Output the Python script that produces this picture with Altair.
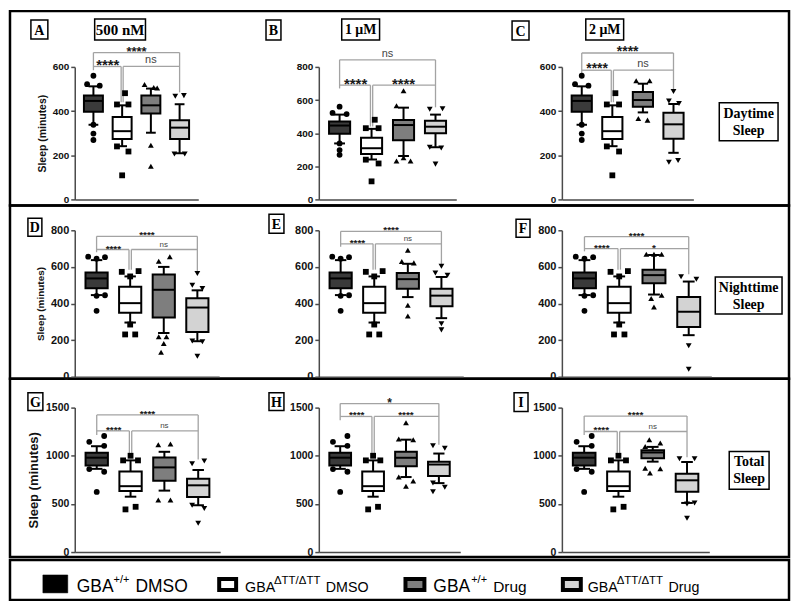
import altair as alt
import pandas as pd

# ---------------- data ----------------
GROUPS = ["GBA+/+ DMSO", "GBAΔTT/ΔTT DMSO", "GBA+/+ Drug", "GBAΔTT/ΔTT Drug"]
POSITIONS = [1, 2, 3, 4]
FILLS = ["#3a3a3a", "#ffffff", "#7e7e7e", "#d3d3d3"]
SHAPES = ["circle", "square", "triangle-up", "triangle-down"]

# box statistics: lower whisker, Q1, median, Q3, upper whisker (minutes)
DAY_WT_DMSO = [338, 397, 446, 471, 512]
DAY_MUT_DMSO = [241, 274, 309, 373, 426]
DAY_WT_500 = [302, 389, 426, 470, 502]
DAY_MUT_500 = [209, 274, 325, 359, 431]
DAY_WT_1 = [262, 357, 449, 479, 554]
DAY_MUT_1 = [315, 400, 439, 475, 512]
DAY_WT_2 = [394, 420, 450, 486, 524]
DAY_MUT_2 = [211, 275, 340, 392, 432]
NIGHT_WT_DMSO = [446, 483, 537, 570, 637]
NIGHT_MUT_DMSO = [296, 350, 402, 492, 548]
NIGHT_WT_500 = [239, 323, 475, 558, 600]
NIGHT_MUT_500 = [194, 244, 378, 429, 472]
NIGHT_WT_1 = [435, 480, 533, 567, 617]
NIGHT_MUT_1 = [320, 385, 443, 480, 545]
NIGHT_WT_2 = [449, 511, 555, 585, 665]
NIGHT_MUT_2 = [227, 271, 355, 435, 520]
TOTAL_WT_DMSO = [864, 898, 980, 1031, 1099]
TOTAL_MUT_DMSO = [575, 633, 684, 837, 952]
TOTAL_WT_500 = [638, 741, 879, 983, 1041]
TOTAL_MUT_500 = [486, 572, 693, 762, 852]
TOTAL_WT_1 = [779, 891, 979, 1042, 1167]
TOTAL_MUT_1 = [716, 790, 909, 937, 1023]
TOTAL_WT_2 = [939, 973, 1034, 1058, 1092]
TOTAL_MUT_2 = [510, 626, 745, 813, 935]

# points outside the whiskers: [value, horizontal offset in group units]
DAY_WT_DMSO_OUT = [[560, 0], [522, -0.22], [515, 0.22], [338, 0], [298, 0], [269, 0]]
DAY_MUT_DMSO_OUT = [[481, 0.1], [430, -0.18], [430, 0.22], [240, -0.18], [217, 0.22], [109, 0]]
DAY_WT_500_OUT = [[520, -0.22], [507, 0.1], [505, 0.22], [245, 0], [150, 0]]
DAY_MUT_500_OUT = [[467, -0.15], [470, 0.15], [206, -0.18], [206, 0.18]]
DAY_WT_1_OUT = [[565, -0.22], [656, 0], [232, -0.22], [252, 0], [232, 0.22]]
DAY_MUT_1_OUT = [[545, -0.18], [548, 0.22], [315, -0.18], [311, 0.18], [213, 0]]
DAY_WT_2_OUT = [[537, -0.22], [537, 0.22], [366, -0.15], [359, 0.15]]
DAY_MUT_2_OUT = [[489, 0], [446, -0.15], [434, 0.18], [168, -0.15], [176, 0.15]]
NIGHT_WT_DMSO_OUT = [[656, -0.25], [645, 0], [653, 0.25], [442, 0], [445, 0.25], [360, 0]]
NIGHT_MUT_DMSO_OUT = [[573, -0.25], [577, 0.25], [548, 0], [285, 0], [231, -0.15], [231, 0.15]]
NIGHT_WT_500_OUT = [[631, -0.15], [655, 0.18], [218, -0.15], [218, 0.08], [182, 0], [134, -0.08]]
NIGHT_MUT_500_OUT = [[564, 0], [500, -0.15], [482, 0.15], [195, -0.15], [191, 0.15], [112, 0]]
NIGHT_WT_1_OUT = [[691, 0], [630, -0.18], [622, 0.18], [391, 0], [332, 0]]
NIGHT_MUT_1_OUT = [[604, 0], [567, -0.18], [554, 0.18], [289, 0], [256, 0]]
NIGHT_WT_2_OUT = [[669, -0.22], [669, 0], [669, 0.22], [427, -0.08], [445, 0.22], [381, 0]]
NIGHT_MUT_2_OUT = [[546, -0.22], [532, 0.22], [169, 0], [41, 0]]
TOTAL_WT_DMSO_OUT = [[1145, -0.22], [1205, 0.22], [1103, 0.22], [862, -0.22], [834, 0.22], [624, 0]]
TOTAL_MUT_DMSO_OUT = [[1000, 0], [952, -0.22], [952, 0.22], [443, -0.15], [470, 0.15]]
TOTAL_WT_500_OUT = [[1114, -0.18], [1121, 0.18], [540, -0.18], [540, 0.18]]
TOTAL_MUT_500_OUT = [[918, -0.18], [945, 0.18], [486, -0.18], [452, 0.18], [300, 0]]
TOTAL_WT_1_OUT = [[1342, 0], [1174, -0.22], [1167, 0.22], [779, -0.22], [737, 0.22], [683, 0]]
TOTAL_MUT_1_OUT = [[1103, -0.18], [1079, 0.18], [716, -0.18], [674, 0.18], [627, -0.18]]
TOTAL_WT_2_OUT = [[1167, -0.1], [1133, 0.22], [1095, -0.22], [871, -0.22], [864, 0.22], [820, -0.08]]
TOTAL_MUT_2_OUT = [[969, -0.22], [969, 0.22], [500, 0], [510, 0.22], [350, 0]]

# significance brackets: [top line, lower line, end above group1, end above group2, end above group4]
BR_A = [665, 602, 585, 440, 485]
BR_B = [843, 690, 670, 440, 556]
BR_C = [663, 585, 572, 440, 500]
BR_D = [767, 695, 680, 585, 574]
BR_E = [794, 726, 710, 585, 615]
BR_F = [765, 700, 685, 585, 560]
BR_G = [1424, 1258, 1215, 1015, 960]
BR_H = [1542, 1408, 1370, 1015, 1115]
BR_I = [1412, 1252, 1215, 1015, 985]

# bracket labels: [group1 vs group4, group1 vs group2, group2 vs group4]
LAB_A = ["****", "****", "ns"]
LAB_B = ["ns", "****", "****"]
LAB_C = ["****", "****", "ns"]
LAB_D = ["****", "****", "ns"]
LAB_E = ["****", "****", "ns"]
LAB_F = ["****", "****", "*"]
LAB_G = ["****", "****", "ns"]
LAB_H = ["*", "****", "****"]
LAB_I = ["****", "****", "ns"]

DAY_TICKS_600 = [0, 200, 400, 600]
TICKS_800 = [0, 200, 400, 600, 800]
TICKS_1500 = [0, 500, 1000, 1500]

CONCENTRATIONS = ["500 nM", "1 μM", "2 μM"]
ROW_LABELS = [["Daytime", "Sleep"], ["Nighttime", "Sleep"], ["Total", "Sleep"]]
PANEL_LETTERS = ["A", "B", "C", "D", "E", "F", "G", "H", "I"]

# ---------------- helpers ----------------
SANS = "Liberation Sans"
SERIF = "Liberation Serif"
AXIS_GRAY = "#4a4a4a"
BRACKET_GRAY = "#a3a3a3"
ONE = pd.DataFrame({"k": [0]})
BOX_HALF = 0.33
CAP_HALF = 0.17
DBL = 0.035


def xenc(field):
    return alt.X(f"{field}:Q",
                 scale=alt.Scale(domain=[0.35, 4.65], nice=False, zero=False),
                 axis=alt.Axis(title=None, labels=False, ticks=False, grid=False,
                               domainColor=AXIS_GRAY, domainWidth=1.5))


def make_yenc(ymax, ticks, title, tfs, lfs):
    def yenc(field):
        ax = dict(values=ticks, format="d", grid=False, labelFont=SANS, labelFontWeight="bold",
                  labelFontSize=lfs, labelColor="#111", labelPadding=2,
                  tickColor=AXIS_GRAY, tickWidth=1.5, tickSize=4,
                  domainColor=AXIS_GRAY, domainWidth=1.5)
        if title:
            ax.update(title=title, titleFont=SANS, titleFontWeight="bold",
                      titleFontSize=tfs, titleColor="#111", titlePadding=5)
        else:
            ax.update(title=None)
        return alt.Y(f"{field}:Q", scale=alt.Scale(domain=[0, ymax], nice=False),
                     axis=alt.Axis(**ax))
    return yenc


def deco_box(x0, x1, y0, y1, sw=1.5, fill="white", opacity=1.0):
    return alt.Chart(ONE).mark_rect(fill=fill, fillOpacity=opacity, stroke="black",
                                    strokeWidth=sw).encode(
        x=alt.value(x0), x2=alt.value(x1), y=alt.value(y0), y2=alt.value(y1))


def deco_text(x, y, txt, size, font=SERIF, weight="bold", align="center",
              baseline="middle", line_height=17):
    return alt.Chart(ONE).mark_text(text=txt, font=font, fontSize=size, fontWeight=weight,
                                    align=align, baseline=baseline, color="black",
                                    lineHeight=line_height).encode(
        x=alt.value(x), y=alt.value(y))


def panel(boxes, outs, br, labels, lsizes, ymax, ticks, w, h, title, tfs, lfs, decos):
    yenc = make_yenc(ymax, ticks, title, tfs, lfs)
    bdf = pd.DataFrame({
        "pos": POSITIONS, "grp": GROUPS, "fill": FILLS,
        "lo": [b[0] for b in boxes], "q1": [b[1] for b in boxes],
        "med": [b[2] for b in boxes], "q3": [b[3] for b in boxes],
        "hi": [b[4] for b in boxes]})
    bdf["xl"] = bdf["pos"] - BOX_HALF
    bdf["xr"] = bdf["pos"] + BOX_HALF
    bdf["cl"] = bdf["pos"] - CAP_HALF
    bdf["cr"] = bdf["pos"] + CAP_HALF

    orows = []
    for p, g, pts in zip(POSITIONS, GROUPS, outs):
        for v, off in pts:
            orows.append({"grp": g, "ox": p + off, "val": v})
    odf = pd.DataFrame(orows)

    top, low, d1, d2, d4 = br
    segs = [
        (1, 4, top, top), (1, 1, top, d1), (4, 4, top, d4),
        (1, 2 - DBL, low, low), (2 - DBL, 2 - DBL, low, d2),
        (2 + DBL, 4, low, low), (2 + DBL, 2 + DBL, low, d2),
    ]
    sdf = pd.DataFrame(segs, columns=["x", "x2", "y", "y2"])

    tdf = pd.DataFrame({"tx": [2.5, 1.5, 3.0], "ty": [top, low, low],
                        "label": labels, "fs": lsizes})
    stars = tdf[tdf["label"] != "ns"]
    ns = tdf[tdf["label"] == "ns"]

    layers = [
        alt.Chart(sdf).mark_rule(color=BRACKET_GRAY, strokeWidth=1.3).encode(
            x=xenc("x"), x2="x2:Q", y=yenc("y"), y2="y2:Q"),
        alt.Chart(bdf).mark_rule(color="black", strokeWidth=2).encode(
            x=xenc("pos"), y=yenc("lo"), y2="q1:Q"),
        alt.Chart(bdf).mark_rule(color="black", strokeWidth=2).encode(
            x=xenc("pos"), y=yenc("q3"), y2="hi:Q"),
        alt.Chart(bdf).transform_fold(["lo", "hi"], as_=["end", "cap"]).mark_rule(
            color="black", strokeWidth=2).encode(x=xenc("cl"), x2="cr:Q", y=yenc("cap")),
        alt.Chart(bdf).mark_rect(stroke="black", strokeWidth=2).encode(
            x=xenc("xl"), x2="xr:Q", y=yenc("q1"), y2="q3:Q",
            fill=alt.Fill("fill:N", scale=None)),
        alt.Chart(bdf).mark_rule(color="black", strokeWidth=2).encode(
            x=xenc("xl"), x2="xr:Q", y=yenc("med")),
        alt.Chart(odf).mark_point(filled=True, size=34, color="black", opacity=1).encode(
            x=xenc("ox"), y=yenc("val"),
            shape=alt.Shape("grp:N", scale=alt.Scale(domain=GROUPS, range=SHAPES), legend=None)),
    ]
    if len(stars):
        layers.append(alt.Chart(stars).mark_text(
            font=SANS, fontWeight="bold", baseline="middle", color="#1a1a1a", dy=-1).encode(
            x=xenc("tx"), y=yenc("ty"), text="label:N", size=alt.Size("fs:Q", scale=None)))
    if len(ns):
        layers.append(alt.Chart(ns).mark_text(
            font=SANS, baseline="bottom", color="#444444", dy=-1).encode(
            x=xenc("tx"), y=yenc("ty"), text="label:N", size=alt.Size("fs:Q", scale=None)))
    layers.extend(decos)
    return alt.layer(*layers).properties(width=w, height=h)


# ---------------- decorations ----------------
def letter(label, x0, x1, y0, y1):
    return [deco_box(x0, x1, y0, y1), deco_text((x0 + x1) / 2, (y0 + y1) / 2 + 1, label, 14)]


frames = [
    deco_box(-65, 717, -56, 139, sw=2.5, opacity=0),
    deco_box(-65, 717, 139, 313, sw=2.5, opacity=0),
    deco_box(-65, 717, 313, 492, sw=2.5, opacity=0),
    deco_box(-65, 717, 495, 535, sw=2.5, opacity=0),
]

legend = [
    deco_box(-32, -7, 510, 528, sw=0.5, fill="black"),
    deco_box(145, 162, 514, 525, sw=4, fill=FILLS[1]),
    deco_box(332, 351, 514, 525, sw=4, fill=FILLS[2]),
    deco_box(490, 508, 514, 525, sw=4, fill=FILLS[3]),
    deco_text(2, 527.5, "GBA", 17.5, font=SANS, weight="normal", align="left", baseline="alphabetic"),
    deco_text(39, 518.5, "+/+", 11, font=SANS, weight="normal", align="left", baseline="alphabetic"),
    deco_text(61, 527.5, "DMSO", 17.5, font=SANS, weight="normal", align="left", baseline="alphabetic"),
    deco_text(171, 527.5, "GBA", 14.3, font=SANS, weight="normal", align="left", baseline="alphabetic"),
    deco_text(200, 519.5, "ΔTT/ΔTT", 11.5, font=SANS, weight="normal", align="left", baseline="alphabetic"),
    deco_text(252, 527.5, "DMSO", 14.3, font=SANS, weight="normal", align="left", baseline="alphabetic"),
    deco_text(360, 527.5, "GBA", 17.5, font=SANS, weight="normal", align="left", baseline="alphabetic"),
    deco_text(398, 518.5, "+/+", 11, font=SANS, weight="normal", align="left", baseline="alphabetic"),
    deco_text(420, 527.5, "Drug", 15.5, font=SANS, weight="normal", align="left", baseline="alphabetic"),
    deco_text(515, 527.5, "GBA", 14.3, font=SANS, weight="normal", align="left", baseline="alphabetic"),
    deco_text(544, 519.5, "ΔTT/ΔTT", 11.5, font=SANS, weight="normal", align="left", baseline="alphabetic"),
    deco_text(596, 527.5, "Drug", 14.3, font=SANS, weight="normal", align="left", baseline="alphabetic"),
]

deco_A = frames + legend + letter("A", -44, -27, -47, -28) + [
    deco_box(20, 71, -48, -27), deco_text(45.5, -37, CONCENTRATIONS[0], 15)]
deco_B = letter("B", -53, -38, -47, -27) + [
    deco_box(23, 61, -48, -27), deco_text(42, -37, CONCENTRATIONS[1], 14)]
deco_C = letter("C", -50, -33, -46, -27) + [
    deco_box(24, 62, -48, -27), deco_text(43, -37, CONCENTRATIONS[2], 14),
    deco_box(158, 217, 36, 74), deco_text(187.5, 47, ROW_LABELS[0], 14, baseline="middle")]
deco_D = letter("D", -47, -33, -12, 6)
deco_E = letter("E", -50, -35, -16, 3)
deco_F = letter("F", -46, -32, -11, 7) + [
    deco_box(154, 221, 47, 84), deco_text(187.5, 58, ROW_LABELS[1], 14, baseline="middle")]
deco_G = letter("G", -47, -32, -15, 3)
deco_H = letter("H", -50, -35, -15, 3)
deco_I = letter("I", -48, -34, -15, 4) + [
    deco_box(168, 208, 44, 82), deco_text(188, 55, ROW_LABELS[2], 14, baseline="middle")]

YT = "Sleep (minutes)"
pA = panel([DAY_WT_DMSO, DAY_MUT_DMSO, DAY_WT_500, DAY_MUT_500],
           [DAY_WT_DMSO_OUT, DAY_MUT_DMSO_OUT, DAY_WT_500_OUT, DAY_MUT_500_OUT],
           BR_A, LAB_A, [13, 15, 11], 600, DAY_TICKS_600, 124, 133, YT, 10.5, 10, deco_A)
pB = panel([DAY_WT_DMSO, DAY_MUT_DMSO, DAY_WT_1, DAY_MUT_1],
           [DAY_WT_DMSO_OUT, DAY_MUT_DMSO_OUT, DAY_WT_1_OUT, DAY_MUT_1_OUT],
           BR_B, LAB_B, [11, 15, 15], 800, TICKS_800, 138, 133, None, 10, 10, deco_B)
pC = panel([DAY_WT_DMSO, DAY_MUT_DMSO, DAY_WT_2, DAY_MUT_2],
           [DAY_WT_DMSO_OUT, DAY_MUT_DMSO_OUT, DAY_WT_2_OUT, DAY_MUT_2_OUT],
           BR_C, LAB_C, [14, 14, 11], 600, DAY_TICKS_600, 132, 133, None, 10, 10, deco_C)
pD = panel([NIGHT_WT_DMSO, NIGHT_MUT_DMSO, NIGHT_WT_500, NIGHT_MUT_500],
           [NIGHT_WT_DMSO_OUT, NIGHT_MUT_DMSO_OUT, NIGHT_WT_500_OUT, NIGHT_MUT_500_OUT],
           BR_D, LAB_D, [10, 10, 8], 800, TICKS_800, 145, 147, YT, 10, 11, deco_D)
pE = panel([NIGHT_WT_DMSO, NIGHT_MUT_DMSO, NIGHT_WT_1, NIGHT_MUT_1],
           [NIGHT_WT_DMSO_OUT, NIGHT_MUT_DMSO_OUT, NIGHT_WT_1_OUT, NIGHT_MUT_1_OUT],
           BR_E, LAB_E, [10, 10, 8], 800, TICKS_800, 145, 147, None, 10, 11, deco_E)
pF = panel([NIGHT_WT_DMSO, NIGHT_MUT_DMSO, NIGHT_WT_2, NIGHT_MUT_2],
           [NIGHT_WT_DMSO_OUT, NIGHT_MUT_DMSO_OUT, NIGHT_WT_2_OUT, NIGHT_MUT_2_OUT],
           BR_F, LAB_F, [10, 10, 10], 800, TICKS_800, 150, 147, None, 10, 11, deco_F)
pG = panel([TOTAL_WT_DMSO, TOTAL_MUT_DMSO, TOTAL_WT_500, TOTAL_MUT_500],
           [TOTAL_WT_DMSO_OUT, TOTAL_MUT_DMSO_OUT, TOTAL_WT_500_OUT, TOTAL_MUT_500_OUT],
           BR_G, LAB_G, [10, 10, 8], 1500, TICKS_1500, 146, 145, YT, 13, 10.5, deco_G)
pH = panel([TOTAL_WT_DMSO, TOTAL_MUT_DMSO, TOTAL_WT_1, TOTAL_MUT_1],
           [TOTAL_WT_DMSO_OUT, TOTAL_MUT_DMSO_OUT, TOTAL_WT_1_OUT, TOTAL_MUT_1_OUT],
           BR_H, LAB_H, [12, 10, 10], 1500, TICKS_1500, 142, 145, None, 10, 10.5, deco_H)
pI = panel([TOTAL_WT_DMSO, TOTAL_MUT_DMSO, TOTAL_WT_2, TOTAL_MUT_2],
           [TOTAL_WT_DMSO_OUT, TOTAL_MUT_DMSO_OUT, TOTAL_WT_2_OUT, TOTAL_MUT_2_OUT],
           BR_I, LAB_I, [10, 10, 8], 1500, TICKS_1500, 148, 145, None, 10, 10.5, deco_I)

chart = alt.concat(pA, pB, pC, pD, pE, pF, pG, pH, pI, columns=3, bounds="flush",
                   spacing={"row": 31, "column": 99}).properties(
    padding=0, background="white").configure_view(strokeWidth=0)

chart.save("out.html", embed_options={"renderer": "svg", "actions": False})
